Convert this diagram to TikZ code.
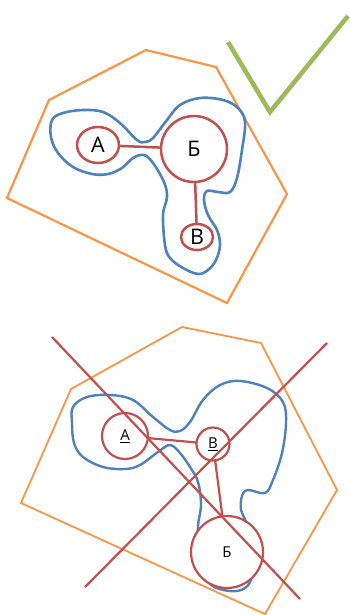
\documentclass[tikz,border=0pt]{standalone}
\usepackage{fontspec}
\setmainfont{Open Sans}
\usetikzlibrary{shapes.geometric}
\definecolor{oorange}{HTML}{F79646}
\definecolor{oblue}{HTML}{4F81BD}
\definecolor{ored}{HTML}{C0504D}
\definecolor{ogreen}{HTML}{9BBB59}
\tikzset{
  hull/.style={draw=oorange,line width=2.2pt,line join=miter},
  blob/.style={draw=oblue,line width=2.6pt},
  vert/.style={draw=ored,fill=white,line width=2.5pt,inner sep=0pt},
  edge/.style={draw=ored,line width=2.5pt},
  cross/.style={draw=ored,line width=2.2pt},
  bigtxt/.style={font=\fontsize{21.5}{26}\selectfont},
  smalltxt/.style={font=\fontsize{15}{18}\selectfont}
}
\begin{document}
\begin{tikzpicture}[x=1pt,y=-1pt]
\useasboundingbox (0,0) rectangle (350,615);
% ---------- top ----------
\draw[hull] (146,50) -- (216,67) -- (287,194) -- (227,303) -- (7,198) -- (49,100) -- cycle;
\draw[blob] plot[smooth cycle,tension=0.6] coordinates {
 (52,120) (63,113) (83,110) (103,112) (120,123) (137,140) (145,142) (153,138)
 (167,120) (180,105) (200,98) (223,100) (238,108) (245,122) (242,150) (237,178)
 (230,192) (218,192) (207,191) (204,200) (208,215) (217,230) (220,245) (216,260)
 (208,270) (198,274) (183,268) (170,258) (165,245) (163,215) (167,197) (164,182)
 (153,163) (144,155) (133,158) (122,168) (108,174) (92,174) (73,167) (58,153) (51,137)};
\draw[ogreen,line width=4.5pt,line join=miter] (228,42) -- (270,112) -- (348,16);
\node[vert,ellipse,minimum width=42pt,minimum height=36pt,bigtxt] (tA) at (98,145) {А};
\node[vert,circle,minimum size=66pt,bigtxt] (tB) at (194,149) {Б};
\node[vert,ellipse,minimum width=32pt,minimum height=26pt,bigtxt] (tV) at (197,237) {В};
\draw[edge] (tA) -- (tB);
\draw[edge] (tB) -- (tV);
% ---------- bottom ----------
\draw[hull,line width=1.8pt] (182,327) -- (261,343) -- (337,490) -- (265,614) -- (21,503) -- (71,389) -- cycle;
\draw[blob,line width=2.4pt] plot[smooth cycle,tension=0.6] coordinates {
 (73,407) (87,397) (110,395) (133,400) (153,417) (170,430) (180,431) (190,422)
 (203,400) (220,385) (240,381) (267,388) (283,402) (286,423) (282,453) (273,480)
 (265,493) (248,490) (242,496) (241,510) (246,522) (252,545) (252,575) (245,588)
 (230,591) (210,584) (199,560) (198,527) (201,505) (198,482) (190,467) (180,453)
 (170,445) (158,452) (140,465) (125,469) (103,467) (83,457) (74,443) (72,423)};
\draw[edge,line width=2.2pt] (125,436) -- (213,444);
\draw[edge,line width=2.2pt] (213,444) -- (227,552);
\node[vert,circle,minimum size=46pt,line width=2.2pt,smalltxt] (bA) at (125,436) {\underline{А}};
\node[vert,circle,minimum size=33pt,line width=2.2pt,smalltxt] (bV) at (213,444) {\underline{В}};
\node[vert,circle,minimum size=72pt,line width=2.2pt,smalltxt] (bB) at (227,552) {Б};
\coordinate (c1s) at (52,337);
\coordinate (c1e) at (300,599);
\coordinate (c2s) at (85,587);
\coordinate (c2e) at (327,343);
\draw[cross] (c1s) -- (c1e);
\draw[cross] (c2s) -- (c2e);
\end{tikzpicture}
\end{document}
